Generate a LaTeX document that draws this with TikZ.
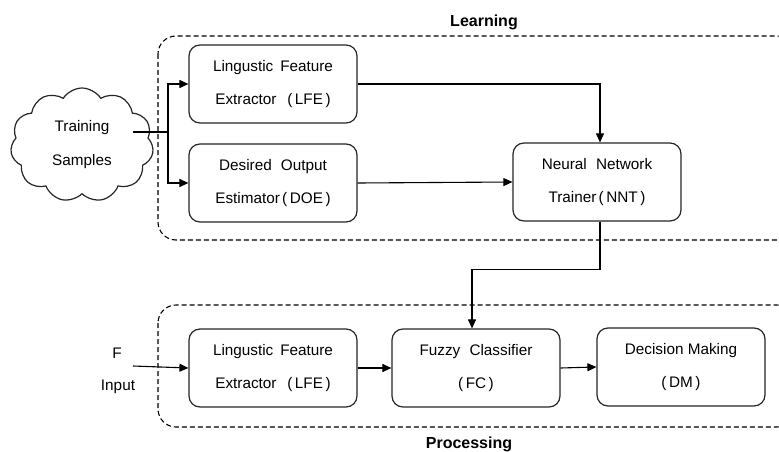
\documentclass[tikz,border=0pt]{standalone}
\usepackage{fontspec}
\setmainfont{Liberation Sans}
\usetikzlibrary{arrows.meta,shapes.symbols}
\begin{document}
\begin{tikzpicture}[x=1pt,y=-1pt,
  box/.style={draw=black!85,line width=1.2pt,rounded corners=11pt,minimum width=168pt,minimum height=78pt,
    align=center,inner sep=0pt,font=\fontsize{15.3}{33}\selectfont},
  grp/.style={draw=black,line width=1.1pt,dash pattern=on 5pt off 3pt,rounded corners=18pt},
  lbl/.style={font=\fontsize{16}{18}\selectfont\bfseries,inner sep=0pt},
  txt/.style={font=\fontsize{15.3}{18}\selectfont,inner sep=0pt},
  arr/.style={draw=black,line width=1.1pt,-{Triangle[length=9pt,width=8pt]}},
  ln/.style={draw=black,line width=1.1pt}]
\useasboundingbox (0,0) rectangle (779,452);
\clip (0,0) rectangle (779,452);
\fill[white] (0,0) rectangle (779,452);
% groups
\draw[grp] (158,36) rectangle (795,240);
\draw[grp] (158,305) rectangle (795,427);
\node[lbl] (learn) at (484,22) {Learning};
\node[lbl] (proc) at (469,444) {Processing};
% cloud
\node[cloud,draw=black!85,line width=1.2pt,cloud puffs=11,cloud puff arc=115,minimum width=143pt,minimum height=114pt,
  align=center,inner sep=0pt,font=\fontsize{15.3}{34}\selectfont] (cloud) at (82,145) {Training\\Samples};
% boxes
\node[box] (lfe1) at (273,84) {Lingustic\hspace{0.45em}Feature\\Extractor\hspace{0.7em}(\,LFE\,)};
\node[box] (doe) at (273,183) {Desired\hspace{0.6em}Output\\Estimator\hspace{0.15em}(\,DOE\,)};
\node[box] (nnt) at (597,182) {Neural\hspace{0.6em}Network\\Trainer\hspace{0.15em}(\,NNT\,)};
\node[box] (lfe2) at (273,368) {Lingustic\hspace{0.45em}Feature\\Extractor\hspace{0.7em}(\,LFE\,)};
\node[box] (fc) at (476,368) {Fuzzy\hspace{0.6em}Classifier\\(\,FC\,)};
\node[box] (dm) at (681,367) {Decision Making\\(\,DM\,)};
% input
\node[txt] (f) at (117,353) {F};
\node[txt] (inp) at (118,387) {Input};
\coordinate (cs) at (133,132);
\coordinate (junc) at (168,132);
\coordinate (ins) at (133,366);
% connectors
\draw[ln] (cs) -- (junc);
\draw[arr] (junc) |- (lfe1.west);
\draw[arr] (junc) |- (doe.west);
\draw[arr] (lfe1.east) -| ([xshift=3pt]nnt.north);
\draw[arr] (doe.east) -- (nnt.west);
\draw[arr] ([xshift=3pt]nnt.south) -- ++(0,48) -| ([xshift=-4pt]fc.north);
\draw[arr] (ins) -- (lfe2.west);
\draw[arr] (lfe2.east) -- (fc.west);
\draw[arr] (fc.east) -- (dm.west);
\end{tikzpicture}
\end{document}
